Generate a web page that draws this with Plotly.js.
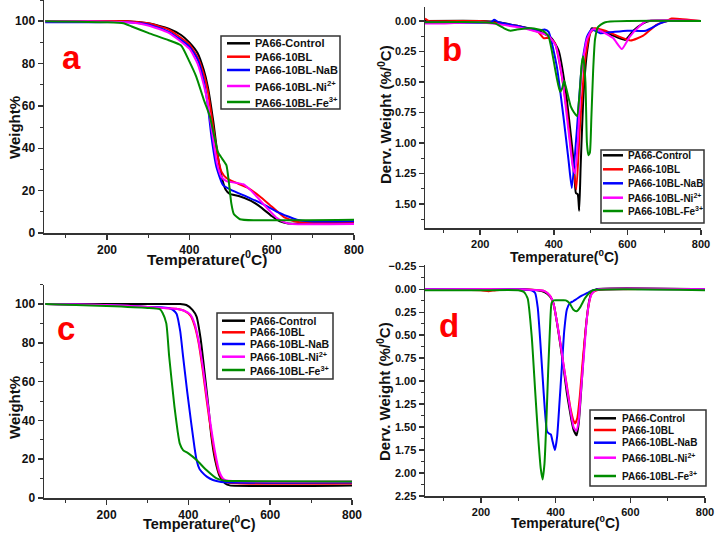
<!DOCTYPE html>
<html>
<head>
<meta charset="utf-8">
<script src="https://cdn.plot.ly/plotly-3.0.1.min.js"></script>
<style>html,body{margin:0;padding:0;background:#fff;}#chart{width:716px;height:533px;}</style>
</head>
<body>
<div id="chart"></div>
<script>
// ---------- series names & colours ----------
const seriesNames = ['PA66-Control', 'PA66-10BL', 'PA66-10BL-NaB', 'PA66-10BL-Ni<sup>2+</sup>', 'PA66-10BL-Fe<sup>3+</sup>'];
const seriesColors = ['#000000', '#ff0000', '#0000ff', '#ff00ff', '#008c00'];
const panelLetters = ['a', 'b', 'c', 'd'];

// ---------- panel a : TGA (Weight %) ----------
const aT_control = [50,150,250,300,350,380,400,420,435,445,458,468,478,488,498,520,550,575,600,620,640,700,800];
const aW_control = [100,100,100,99,96.5,93.5,90,85,77,69,53,38,27,20.5,18.5,17.5,15.2,12,8,5.5,4.5,4.5,4.5];
const aT_10bl = [50,150,250,300,350,400,420,435,445,458,468,478,490,510,540,570,600,630,660,690,800];
const aW_10bl = [100,100,100,99,96,89,83,75,67,50,37,29,26,24,21.5,17.5,12.5,7.5,5.3,4.8,4.8];
const aT_nab = [50,150,250,300,350,400,420,435,445,454,466,482,500,547,580,613,640,661,690,800];
const aW_nab = [99.5,99.5,99.5,98.5,95,88,82,72,60,45,31,22.6,20.5,16.5,13.5,10,7.8,6.3,5.5,5.5];
const aT_ni = [50,150,250,300,350,400,420,435,445,455,467,478,490,531,550,571,595,613,635,650,800];
const aW_ni = [100,100,99.5,98,94.5,87,80,70,61,48,33,26.5,24.5,23,20,15.6,10.5,7,4.8,4.2,4.2];
const aT_fe = [50,200,240,260,300,350,380,400,417,435,450,460,470,480,490,496,502,508,523,560,800];
const aW_fe = [100,99.5,99,97.5,94.5,91,88.5,81,73.7,63,55,46,38,35,32,24,14,9,6.5,6,6.3];

// ---------- panel b : DTG (Derv. Weight %/°C) ----------
const bT_control = [50,200,250,300,357,393,413,431,444,455,460,465,469,473,481,491,503,526,561,594,616,643,660,800];
const bD_control = [0,0,0.01,0.04,0.08,0.14,0.24,0.54,0.87,1.19,1.41,1.42,1.555,1.19,0.59,0.24,0.06,0.08,0.12,0.155,0.08,0.02,0,0];
const bT_10bl = [50,60,200,300,357,372,388,403,417,435,449,461,471,485,499,512,540,571,609,643,680,707,720,800];
const bD_10bl = [-0.02,0,0,0.04,0.09,0.14,0.14,0.18,0.37,0.73,1.11,1.38,0.87,0.32,0.1,0.06,0.08,0.12,0.16,0.12,0.03,0,-0.02,0];
const bT_nab = [50,230,238,250,300,357,375,386,408,426,440,449,462,476,490,503,526,561,600,650,689,710,800];
const bD_nab = [0.01,0.01,-0.01,0.01,0.04,0.08,0.07,0.09,0.37,0.78,1.14,1.37,0.92,0.37,0.13,0.07,0.1,0.09,0.08,0.08,0.02,0,0];
const bT_ni = [50,100,200,300,357,385,405,422,440,452,458,465,476,490,505,526,561,585,606,634,652,800];
const bD_ni = [0.02,0.02,0.01,0.05,0.09,0.12,0.2,0.45,0.9,1.2,1.25,1.0,0.4,0.15,0.07,0.08,0.14,0.23,0.13,0.04,0,0];
const bT_fe = [50,200,240,265,282,300,340,370,385,395,407,417,423,428,436,446,455,463,470,476,480,486,490,494,498,502,507,512,520,540,800];
const bD_fe = [0.01,0.01,0.02,0.06,0.08,0.07,0.06,0.08,0.12,0.25,0.45,0.58,0.55,0.49,0.58,0.7,0.75,0.78,0.6,0.35,0.29,0.5,1.0,1.1,1.08,0.8,0.4,0.15,0.05,0.01,0];

// ---------- panel c : TGA (Weight %) ----------
const cT_control = [50,300,380,395,410,420,430,440,450,456,465,477,490,501,800];
const cW_control = [100,100,100,99.5,97,93.5,82,64,45,32,20,11,7.5,6.5,6.5];
const cT_10bl = [50,200,300,370,390,405,415,425,435,445,455,465,475,485,495,800];
const cW_10bl = [100,99.5,98.5,97.5,96.5,94,89,80,66,50,35,22,13,9.5,8,7.5];
const cT_nab = [50,200,300,350,362,371,380,387,397,407,415,420,427,432,445,460,480,500,800];
const cW_nab = [100,99.5,98.5,98,97,95,86,73,55,38.5,26,19.6,15,13.6,11,9.3,8.3,8,8];
const cT_ni = [50,200,300,370,390,405,415,425,435,445,455,465,475,485,495,800];
const cW_ni = [100,99.5,98.5,97.5,96.5,94.5,90,81,68,52,37,24,14,10,9,8.5];
const cT_fe = [50,200,300,330,337,346,353,366,374,379,387,400,420,444,469,493,520,800];
const cW_fe = [100,99,98,97.3,95.4,90,73,47,34,28,24.7,23,19.6,14.4,10.1,8.8,8.7,8.5];

// ---------- panel d : DTG (Derv. Weight %/°C) ----------
const dT_control = [50,300,350,370,385,394,403,412,421,430,437,443,448,456,462,469,476,483,490,496,510,800];
const dD_control = [0,0,0.01,0.03,0.08,0.15,0.35,0.59,0.85,1.13,1.3,1.44,1.53,1.59,1.45,1.06,0.65,0.33,0.12,0.04,0,0];
const dT_10bl = [50,200,220,240,300,370,385,395,404,412,421,430,440,447,452,458,465,472,480,488,496,510,800];
const dD_10bl = [0,0.01,0.02,0.01,0,0.02,0.07,0.17,0.37,0.57,0.82,1.05,1.3,1.42,1.46,1.4,1.15,0.8,0.45,0.18,0.05,0.01,0];
const dT_nab = [50,300,335,345,352,358,365,371,377,382,387,392,398,404,410,416,423,430,438,447,458,470,485,500,520,800];
const dD_nab = [0,0,0.01,0.04,0.2,0.52,0.95,1.31,1.55,1.57,1.58,1.66,1.75,1.6,1.25,0.88,0.45,0.22,0.15,0.13,0.1,0.07,0.04,0.01,0,0];
const dT_ni = [50,300,370,385,395,404,412,421,430,440,448,455,461,468,476,484,492,500,515,800];
const dD_ni = [0,0,0.02,0.07,0.17,0.37,0.57,0.82,1.07,1.33,1.5,1.54,1.45,1.1,0.7,0.3,0.1,0.03,0,0];
const dT_fe = [50,200,300,315,325,336,345,353,360,365,370,375,380,385,389,395,410,427,437,447,456,465,478,490,500,800];
const dD_fe = [0.01,0.01,0.01,0.03,0.1,0.52,1.1,1.6,1.95,2.07,1.9,1.45,0.88,0.4,0.15,0.12,0.12,0.12,0.15,0.22,0.24,0.2,0.1,0.04,0.01,0.01];

// ---------- tick / axis settings ----------
const xTicks = {dtick: 200, minorDtick: 100};
const tgaTicks = {dtick: 20, minorDtick: 10};
const dtgTicks = {dtick: 0.25, minorDtick: 0.125};

// ---------- helpers ----------
const W = 716, H = 533;
const fx = p => p / W;
const fy = p => 1 - p / H;
const FONT = 'Liberation Sans, Arial, sans-serif';

const panels = [
  {xs: [aT_control, aT_10bl, aT_nab, aT_ni, aT_fe], ys: [aW_control, aW_10bl, aW_nab, aW_ni, aW_fe], xa: 'x', ya: 'y'},
  {xs: [bT_control, bT_10bl, bT_nab, bT_ni, bT_fe], ys: [bD_control, bD_10bl, bD_nab, bD_ni, bD_fe], xa: 'x2', ya: 'y2'},
  {xs: [cT_control, cT_10bl, cT_nab, cT_ni, cT_fe], ys: [cW_control, cW_10bl, cW_nab, cW_ni, cW_fe], xa: 'x3', ya: 'y3'},
  {xs: [dT_control, dT_10bl, dT_nab, dT_ni, dT_fe], ys: [dD_control, dD_10bl, dD_nab, dD_ni, dD_fe], xa: 'x4', ya: 'y4'}
];

const traces = [];
panels.forEach(p => {
  for (let i = 0; i < 5; i++) {
    traces.push({
      x: p.xs[i], y: p.ys[i], xaxis: p.xa, yaxis: p.ya,
      type: 'scatter', mode: 'lines', name: seriesNames[i], showlegend: false,
      line: {color: seriesColors[i], width: 2, shape: 'spline', smoothing: 0.5},
      hoverinfo: 'skip'
    });
  }
});

function xAxis(dom, range, anchor, fs) {
  return {
    domain: dom, range: range, anchor: anchor, showline: true, linecolor: '#333', linewidth: 1.5,
    ticks: 'outside', ticklen: 5, tickwidth: 1.5, tickcolor: '#333', tick0: 0, dtick: xTicks.dtick,
    minor: {ticks: 'outside', ticklen: 3, tickwidth: 1, tickcolor: '#333', tick0: 0, dtick: xTicks.minorDtick},
    showgrid: false, zeroline: false, fixedrange: true,
    tickfont: {family: FONT, size: fs, weight: 'bold', color: '#111'}
  };
}
function yAxis(dom, range, anchor, tk, fs, fmt) {
  const a = {
    domain: dom, range: range, anchor: anchor, showline: true, linecolor: '#333', linewidth: 1.5,
    ticks: 'outside', ticklen: 5, tickwidth: 1.5, tickcolor: '#333', tick0: 0, dtick: tk.dtick,
    minor: {ticks: 'outside', ticklen: 3, tickwidth: 1, tickcolor: '#333', tick0: 0, dtick: tk.minorDtick},
    showgrid: false, zeroline: false, fixedrange: true,
    tickfont: {family: FONT, size: fs, weight: 'bold', color: '#111'}
  };
  if (fmt) a.tickformat = fmt;
  return a;
}

const layout = {
  width: W, height: H, margin: {l: 0, r: 0, t: 0, b: 0},
  paper_bgcolor: '#fff', plot_bgcolor: '#fff', showlegend: false,
  xaxis:  xAxis([fx(44), fx(354)], [47, 800], 'y', 12),
  yaxis:  yAxis([fy(233), 1], [0, 110], 'x', tgaTicks, 12),
  xaxis2: xAxis([fx(425), fx(701)], [50, 800], 'y2', 11),
  yaxis2: yAxis([fy(228), fy(6.7)], [1.697, -0.117], 'x2', dtgTicks, 11, '.2f'),
  xaxis3: xAxis([fx(44), fx(352)], [47, 800], 'y3', 12),
  yaxis3: yAxis([fy(498), fy(284.6)], [0, 110], 'x3', tgaTicks, 12),
  xaxis4: xAxis([fx(425), fx(705)], [50, 800], 'y4', 11),
  yaxis4: yAxis([fy(496), fy(264.5)], [2.25, -0.27], 'x4', dtgTicks, 11, '.2f'),
  shapes: [], annotations: []
};

function ann(text, x, y, size, opts) {
  return Object.assign({
    text: text, xref: 'paper', yref: 'paper', x: fx(x), y: fy(y), showarrow: false,
    xanchor: 'center', yanchor: 'middle',
    font: {family: FONT, size: size, weight: 'bold', color: '#111'}
  }, opts || {});
}

// axis titles
const xTitle = 'Temperature(<sup>0</sup>C)';
const tgaTitle = 'Weight%';
const dtgTitle = 'Derv. Weight (%/<sup>0</sup>C)';
layout.annotations.push(ann(xTitle, 207, 258, 15.5));
layout.annotations.push(ann(xTitle, 564, 256, 14));
layout.annotations.push(ann(xTitle, 199, 523, 14.5));
layout.annotations.push(ann(xTitle, 565, 522, 14));
layout.annotations.push(ann(tgaTitle, 14, 128, 15, {textangle: -90}));
layout.annotations.push(ann(dtgTitle, 385, 115, 15, {textangle: -90}));
layout.annotations.push(ann(tgaTitle, 14, 408, 15, {textangle: -90}));
layout.annotations.push(ann(dtgTitle, 383, 392, 15, {textangle: -90}));

// panel letters
const letterPos = [[71, 58], [452, 50], [66, 328], [449, 325]];
panelLetters.forEach((l, i) => {
  layout.annotations.push(ann(l, letterPos[i][0], letterPos[i][1], 33, {font: {family: FONT, size: 33, weight: 'bold', color: '#ff0000'}}));
});

// legends (box, line sample, text)
const legends = [
  {box: [221, 36, 340, 109], lx: [227, 250], tx: 253, ys: [43.3, 56.7, 70, 86, 102], fs: 11},
  {box: [601, 150, 704, 223], lx: [603, 623], tx: 626, ys: [155.3, 169.3, 183.3, 197.7, 211], fs: 10},
  {box: [217, 313, 333, 379], lx: [222, 245], tx: 248, ys: [320.7, 332.3, 344, 356.7, 370], fs: 10.5},
  {box: [590, 410, 706, 486], lx: [594, 616], tx: 619.5, ys: [418.3, 430, 442.7, 457.7, 476], fs: 10}
];
legends.forEach(lg => {
  layout.shapes.push({type: 'rect', xref: 'paper', yref: 'paper', x0: fx(lg.box[0]), x1: fx(lg.box[2]), y0: fy(lg.box[1]), y1: fy(lg.box[3]), line: {color: '#333', width: 1.5}, fillcolor: '#fff', layer: 'above'});
  for (let i = 0; i < 5; i++) {
    layout.shapes.push({type: 'line', xref: 'paper', yref: 'paper', x0: fx(lg.lx[0]), x1: fx(lg.lx[1]), y0: fy(lg.ys[i]), y1: fy(lg.ys[i]), line: {color: seriesColors[i], width: 2.5}, layer: 'above'});
    layout.annotations.push(ann(seriesNames[i], lg.tx, lg.ys[i], lg.fs, {xanchor: 'left'}));
  }
});

Plotly.newPlot('chart', traces, layout, {staticPlot: true, displayModeBar: false});
</script>
</body>
</html>
